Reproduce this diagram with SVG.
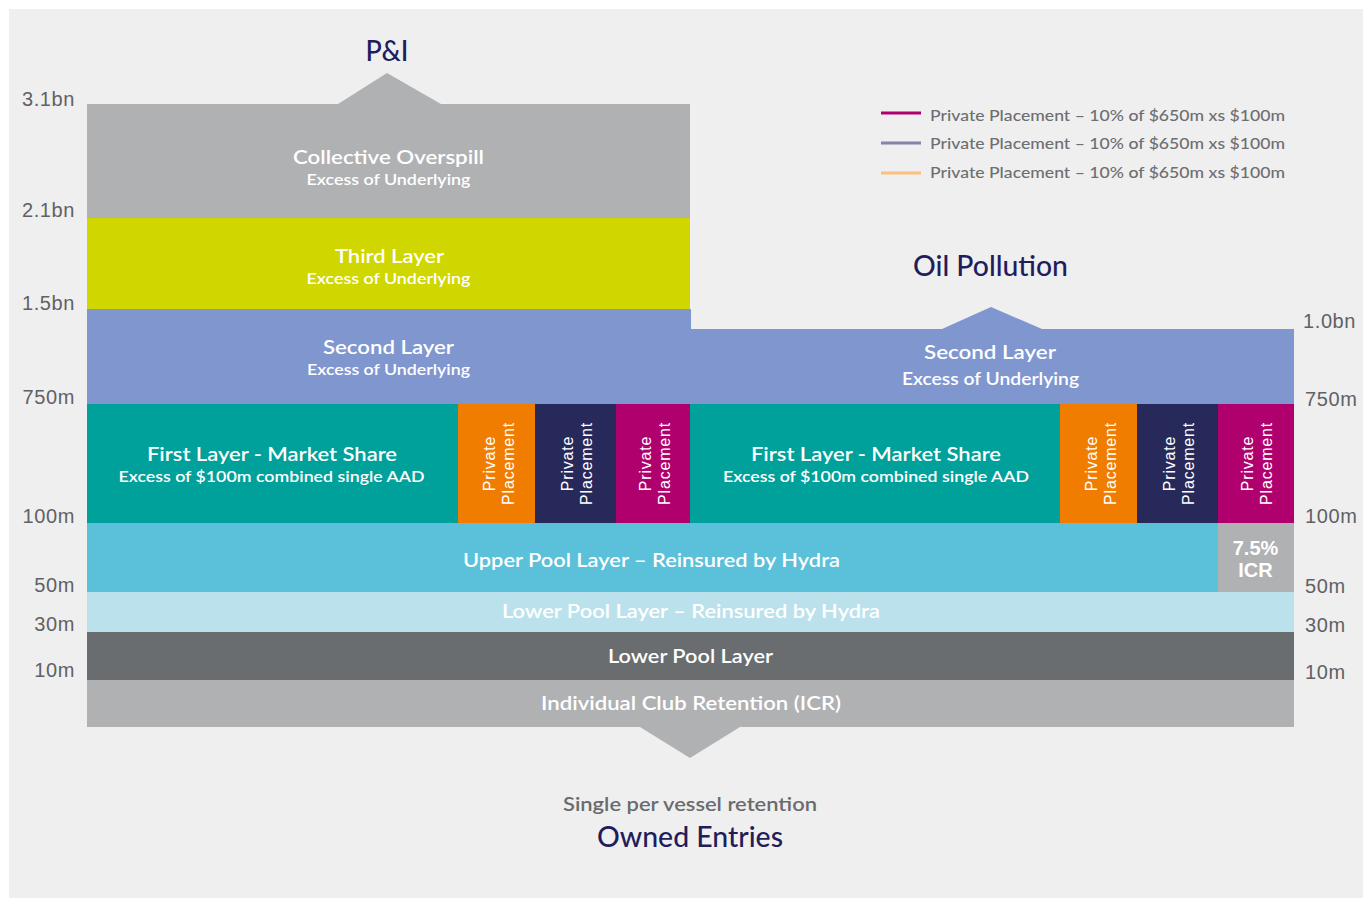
<svg xmlns="http://www.w3.org/2000/svg" width="1363" height="899" viewBox="0 0 1363 899">
<style>
text{font-family:Lato,"Open Sans","Noto Sans",sans-serif}
.h{fill:#fff;font-size:20px;font-weight:600;text-anchor:middle}
.s{fill:#fff;font-size:16px;font-weight:600;text-anchor:middle}
.pp{fill:#fff;font-family:"Liberation Sans",Arial,sans-serif;font-size:16px;letter-spacing:0.8px;text-anchor:middle}
.ax{fill:#5f6166;font-family:"Liberation Sans",Arial,sans-serif;font-size:20px;letter-spacing:0.6px}
.axl{text-anchor:end}
.title{fill:#1f1d5c;font-size:28px;font-weight:500;text-anchor:middle}
.leg{fill:#6d6e71;font-size:16px;font-weight:500}
.icr{fill:#fff;font-family:"Liberation Sans",Arial,sans-serif;font-size:20px;font-weight:700;text-anchor:middle}
</style>
<rect x="9" y="9" width="1354" height="889" fill="#efefef"/>

<g id="axis-left">
<text class="ax axl" x="75" y="106">3.1bn</text>
<text class="ax axl" x="75" y="217">2.1bn</text>
<text class="ax axl" x="75" y="310">1.5bn</text>
<text class="ax axl" x="75" y="404">750m</text>
<text class="ax axl" x="75" y="523">100m</text>
<text class="ax axl" x="75" y="592">50m</text>
<text class="ax axl" x="75" y="631">30m</text>
<text class="ax axl" x="75" y="677">10m</text>
</g>
<g id="axis-right">
<text class="ax" x="1303" y="328">1.0bn</text>
<text class="ax" x="1305" y="406">750m</text>
<text class="ax" x="1305" y="523">100m</text>
<text class="ax" x="1305" y="593">50m</text>
<text class="ax" x="1305" y="632">30m</text>
<text class="ax" x="1305" y="679">10m</text>
</g>

<g id="legend">
<line x1="881" y1="113" x2="921" y2="113" stroke="#b0006e" stroke-width="3"/>
<text class="leg" x="930" y="121" textLength="355" lengthAdjust="spacingAndGlyphs">Private Placement – 10% of $650m xs $100m</text>
<line x1="881" y1="143" x2="921" y2="143" stroke="#8a80aa" stroke-width="3"/>
<text class="leg" x="930" y="149" textLength="355" lengthAdjust="spacingAndGlyphs">Private Placement – 10% of $650m xs $100m</text>
<line x1="881" y1="173" x2="921" y2="173" stroke="#fbbf7f" stroke-width="3"/>
<text class="leg" x="930" y="178" textLength="355" lengthAdjust="spacingAndGlyphs">Private Placement – 10% of $650m xs $100m</text>
</g>

<g id="pi-title"><text class="title" x="387" y="61" textLength="43" lengthAdjust="spacingAndGlyphs">P&amp;I</text></g>
<g id="oil-title"><text class="title" x="990.5" y="276" textLength="155" lengthAdjust="spacingAndGlyphs">Oil Pollution</text></g>

<g id="collective-overspill">
<path d="M87 104 H338 L387 73 L441 104 H690 V218 H87 Z" fill="#b0b1b3"/>
<text class="h" x="388.5" y="164" textLength="191" lengthAdjust="spacingAndGlyphs">Collective Overspill</text>
<text class="s" x="388.5" y="185" textLength="164" lengthAdjust="spacingAndGlyphs">Excess of Underlying</text>
</g>

<g id="third-layer">
<rect x="87" y="218" width="603" height="91" fill="#cfd600"/>
<text class="h" x="389.5" y="263" textLength="109" lengthAdjust="spacingAndGlyphs">Third Layer</text>
<text class="s" x="388.5" y="284" textLength="164" lengthAdjust="spacingAndGlyphs">Excess of Underlying</text>
</g>

<g id="second-layer-pi">
<rect x="87" y="309" width="604" height="95" fill="#8096cf"/>
<text class="h" x="388.5" y="354" textLength="131" lengthAdjust="spacingAndGlyphs">Second Layer</text>
<text class="s" x="388.5" y="375" textLength="163" lengthAdjust="spacingAndGlyphs">Excess of Underlying</text>
</g>

<g id="second-layer-oil">
<path d="M690 329 H942 L991 307 L1042 329 H1294 V404 H690 Z" fill="#8096cf"/>
<text class="h" x="990" y="359" textLength="132" lengthAdjust="spacingAndGlyphs">Second Layer</text>
<text class="s" x="990.5" y="385" textLength="177" lengthAdjust="spacingAndGlyphs" style="font-size:17.5px">Excess of Underlying</text>
</g>

<g id="first-layer-pi">
<rect x="87" y="404" width="371" height="119" fill="#00a19a"/>
<text class="h" x="272" y="461" textLength="250" lengthAdjust="spacingAndGlyphs">First Layer - Market Share</text>
<text class="s" x="271.5" y="482" textLength="306" lengthAdjust="spacingAndGlyphs">Excess of $100m combined single AAD</text>
</g>
<g id="pp-pi-orange">
<rect x="458" y="404" width="77" height="119" fill="#f07d00"/>
<g transform="translate(496.5,463.5) rotate(-90)"><text class="pp" x="0" y="-1.5">Private</text><text class="pp" x="0" y="17.5">Placement</text></g>
</g>
<g id="pp-pi-navy">
<rect x="535" y="404" width="81" height="119" fill="#262959"/>
<g transform="translate(575.5,463.5) rotate(-90)"><text class="pp" x="0" y="-2.5">Private</text><text class="pp" x="0" y="16.5">Placement</text></g>
</g>
<g id="pp-pi-magenta">
<rect x="616" y="404" width="74.5" height="119" fill="#b0006e"/>
<g transform="translate(653,463.5) rotate(-90)"><text class="pp" x="0" y="-2.5">Private</text><text class="pp" x="0" y="16.5">Placement</text></g>
</g>

<g id="first-layer-oil">
<rect x="690" y="404" width="370" height="119" fill="#00a19a"/>
<text class="h" x="876" y="461" textLength="250" lengthAdjust="spacingAndGlyphs">First Layer - Market Share</text>
<text class="s" x="876" y="482" textLength="306" lengthAdjust="spacingAndGlyphs">Excess of $100m combined single AAD</text>
</g>
<g id="pp-oil-orange">
<rect x="1060" y="404" width="77" height="119" fill="#f07d00"/>
<g transform="translate(1098.5,463.5) rotate(-90)"><text class="pp" x="0" y="-1.5">Private</text><text class="pp" x="0" y="17.5">Placement</text></g>
</g>
<g id="pp-oil-navy">
<rect x="1137" y="404" width="81" height="119" fill="#262959"/>
<g transform="translate(1177.5,463.5) rotate(-90)"><text class="pp" x="0" y="-2.5">Private</text><text class="pp" x="0" y="16.5">Placement</text></g>
</g>
<g id="pp-oil-magenta">
<rect x="1218" y="404" width="76" height="119" fill="#b0006e"/>
<g transform="translate(1255,463.5) rotate(-90)"><text class="pp" x="0" y="-2.5">Private</text><text class="pp" x="0" y="16.5">Placement</text></g>
</g>

<g id="upper-pool">
<rect x="87" y="523" width="1131" height="69" fill="#5bc0d9"/>
<text class="h" x="651.5" y="567" textLength="377" lengthAdjust="spacingAndGlyphs">Upper Pool Layer – Reinsured by Hydra</text>
</g>
<g id="icr-75">
<rect x="1218" y="523" width="76" height="69" fill="#b0b1b3"/>
<text class="icr" x="1255.5" y="555">7.5%</text>
<text class="icr" x="1255.5" y="577">ICR</text>
</g>

<g id="lower-pool-reinsured">
<rect x="87" y="592" width="1207" height="40" fill="#bbe2ec"/>
<text class="h" x="691" y="618" textLength="378" lengthAdjust="spacingAndGlyphs">Lower Pool Layer – Reinsured by Hydra</text>
</g>

<g id="lower-pool">
<rect x="87" y="632" width="1207" height="48" fill="#6a6d70"/>
<text class="h" x="690.5" y="663" textLength="165" lengthAdjust="spacingAndGlyphs">Lower Pool Layer</text>
</g>

<g id="icr">
<path d="M87 680 H1294 V727 H740 L690 758 L640 727 H87 Z" fill="#b0b1b3"/>
<text class="h" x="691" y="710" textLength="300" lengthAdjust="spacingAndGlyphs">Individual Club Retention (ICR)</text>
</g>

<g id="owned-entries">
<text x="690" y="811" text-anchor="middle" fill="#6a6b6e" font-size="19" font-weight="600" textLength="254" lengthAdjust="spacingAndGlyphs">Single per vessel retention</text>
<text class="title" x="690" y="847" textLength="186" lengthAdjust="spacingAndGlyphs">Owned Entries</text>
</g>

<g id="connectors"></g>
</svg>
